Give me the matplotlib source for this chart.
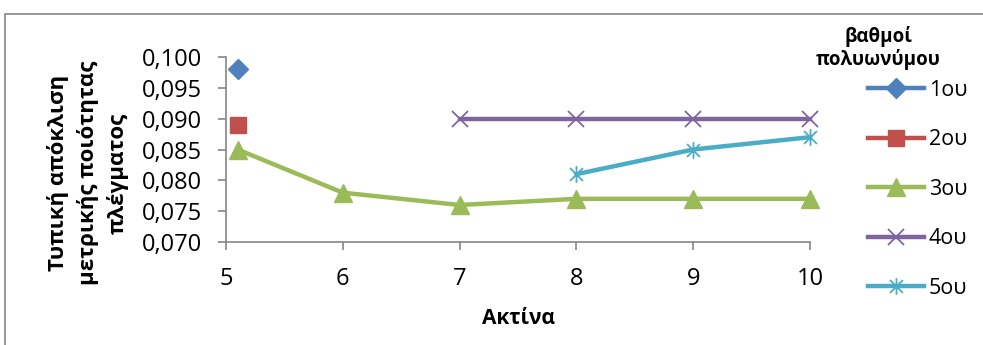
import matplotlib
matplotlib.use("Agg")
import matplotlib.pyplot as plt
from matplotlib.path import Path
from matplotlib.ticker import FuncFormatter, MultipleLocator
from matplotlib.patches import Rectangle

plt.rcParams['font.family'] = ['Open Sans', 'DejaVu Sans']

# data
x_first = 5.1
radius = [x_first, 6, 7, 8, 9, 10]
deg1_x = [x_first]
deg1_y = [0.098]
deg2_x = [x_first]
deg2_y = [0.089]
deg3_x = radius
deg3_y = [0.085, 0.078, 0.076, 0.077, 0.077, 0.077]
deg4_x = [7, 8, 9, 10]
deg4_y = [0.090, 0.090, 0.090, 0.090]
deg5_x = [8, 9, 10]
deg5_y = [0.081, 0.085, 0.087]
labels = ['1ου', '2ου', '3ου', '4ου', '5ου']
colors = ['#4F81BD', '#C0504D', '#9BBB59', '#8064A2', '#4BACC6']

# excel style star marker (x with a vertical bar)
star = Path([(-1, -1), (1, 1), (-1, 1), (1, -1), (0, -1.3), (0, 1.3)],
            [Path.MOVETO, Path.LINETO, Path.MOVETO, Path.LINETO, Path.MOVETO, Path.LINETO])

fig = plt.figure(figsize=(9.83, 3.45), dpi=100)
# outer chart frame
fig.patches.append(Rectangle((5 / 983, -0.05), 1.0, 1 - 14 / 345 + 0.05,
                             transform=fig.transFigure, fill=False,
                             edgecolor='#868686', linewidth=1.2))

ax = fig.add_axes([226 / 983, 1 - 242 / 345, (810 - 226) / 983, (242 - 57) / 345])

series = [(deg1_x, deg1_y, 'D', 10), (deg2_x, deg2_y, 's', 11),
          (deg3_x, deg3_y, '^', 13), (deg4_x, deg4_y, 'x', 12),
          (deg5_x, deg5_y, star, 12)]
for (xs, ys, mk, ms), lab, c in zip(series, labels, colors):
    mew = 1.3 if mk == 'x' or mk is star else 1
    ax.plot(xs, ys, color=c, lw=3.2, marker=mk, markersize=ms,
            markeredgewidth=mew, label=lab, clip_on=False)

ax.set_xlim(5, 10)
ax.set_ylim(0.070, 0.100)
ax.xaxis.set_major_locator(MultipleLocator(1))
ax.yaxis.set_major_locator(MultipleLocator(0.005))
ax.yaxis.set_major_formatter(FuncFormatter(lambda v, p: f"{v:.3f}".replace('.', ',')))

for s in ['top', 'right']:
    ax.spines[s].set_visible(False)
for s in ['left', 'bottom']:
    ax.spines[s].set_color('#868686')
    ax.spines[s].set_linewidth(1.2)
ax.tick_params(axis='both', colors='#868686', labelcolor='black', labelsize=17,
               length=6, width=1.2)
ax.tick_params(axis='y', pad=11.5)
ax.tick_params(axis='x', pad=12)

ax.set_xlabel('Ακτίνα', fontsize=15, fontweight='bold', labelpad=12)
fig.text(88 / 983, 1 - 173 / 345, 'Τυπική απόκλιση\nμετρικής ποιότητας\nπλέγματος',
         rotation=90, ha='center', va='center', fontsize=16,
         fontweight='bold', linespacing=1.45)

fig.text(878 / 983, 1 - 48 / 345, 'βαθμοί\nπολυωνύμου', ha='center', va='center',
         fontsize=13.5, fontweight='bold', linespacing=1.1)
leg = ax.legend(loc='upper left', bbox_to_anchor=(868 / 983, 1 - 80 / 345),
                bbox_transform=fig.transFigure, frameon=False,
                fontsize=15.5, borderpad=0, borderaxespad=0,
                handlelength=2.6, handletextpad=0.22, labelspacing=1.32)

fig.savefig('out.png', dpi=100)
